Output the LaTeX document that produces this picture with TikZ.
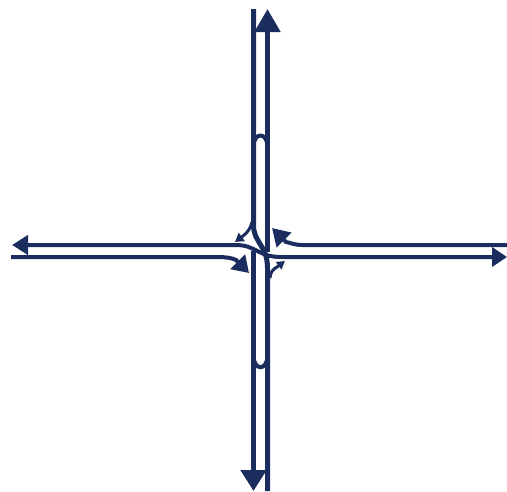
\documentclass[tikz,border=0pt]{standalone}
\usepackage{color}
\usetikzlibrary{arrows.meta}
\definecolor{roadblue}{RGB}{27,45,95}

\begin{document}
\begin{tikzpicture}[x=1pt, y=-1pt, road/.style={draw=roadblue, line width=5pt}, lane/.style={draw=roadblue, line width=4pt}, turn/.style={draw=roadblue, line width=3pt}]

\useasboundingbox (0,0) rectangle (507,491);

% Main road
\draw[road] (253.5,9) -- (253.5,225) .. controls (253.5,243) and (267.5,245) .. (267.5,268) -- (267.5,491);
\draw[road, -{Triangle[length=23pt, width=25pt]}] (267.5,252) -- (267.5,9);
\draw[road, -{Triangle[length=21pt, width=25pt]}] (253.5,251) -- (253.5,491);

% Island ends
\draw[lane] (253.5,146) .. controls (254,132) and (267,132) .. (267.5,146);
\draw[lane] (253.5,356) .. controls (254,371) and (267,371) .. (267.5,356);

% Side road
\draw[lane, {Triangle[length=16pt, width=19pt]}-{Triangle[length=15pt, width=19pt]}] (12,245) -- (236,245) .. controls (256,245) and (258,257) .. (281,257) -- (507,257);

% Turning lanes
\draw[lane, -{Triangle[length=16pt, width=20pt]}] (11,257) -- (218,257) .. controls (226,257) and (232,258) .. (236,260) -- (249,273);
\draw[lane, -{Triangle[length=17pt, width=20pt]}] (507,245) -- (302,245) .. controls (295,245) and (291,243) .. (286,242) -- (272,228);
\draw[turn, -{Triangle[length=8.5pt, width=10pt]}] (252,222) .. controls (251,228) and (247,233) .. (243,236) -- (235,242);
\draw[turn, -{Triangle[length=8pt, width=9pt]}] (270,278) .. controls (270,273) and (273,269) .. (277,267) -- (285,261);

\end{tikzpicture}
\end{document}
